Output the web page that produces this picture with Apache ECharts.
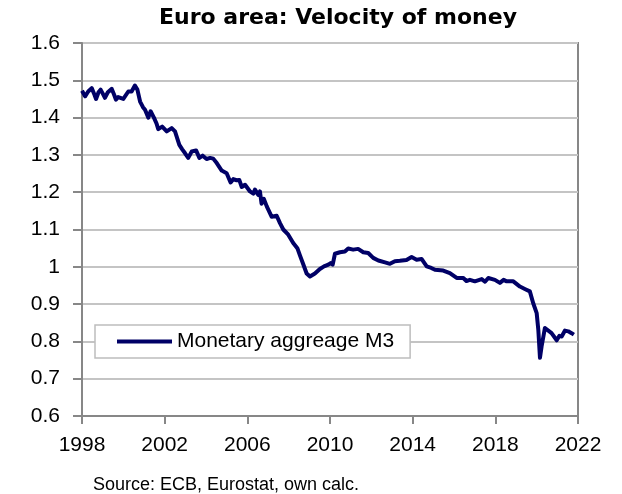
<!DOCTYPE html>
<html>
<head>
<meta charset="utf-8">
<script src="https://cdn.jsdelivr.net/npm/echarts@6/dist/echarts.min.js"></script>
<style>
  html, body { margin: 0; padding: 0; background: #fff; }
  #chart { width: 622px; height: 494px; }
</style>
</head>
<body>
<div id="chart"></div>
<script>
// year (decimal) and velocity of money
const years = [
  1998.00, 1998.15, 1998.30, 1998.47, 1998.60, 1998.68, 1998.80, 1998.90, 1999.00, 1999.11,
  1999.25, 1999.44, 1999.55, 1999.64, 1999.75, 1999.84, 2000.00, 2000.08, 2000.24, 2000.40,
  2000.56, 2000.68, 2000.81, 2000.95, 2001.05, 2001.21, 2001.32, 2001.48, 2001.60, 2001.69,
  2001.88, 2002.10, 2002.34, 2002.50, 2002.71, 2002.85, 2002.98, 2003.14, 2003.31, 2003.52,
  2003.68, 2003.84, 2004.03, 2004.20, 2004.35, 2004.52, 2004.76, 2005.00, 2005.19, 2005.32,
  2005.48, 2005.61, 2005.73, 2005.89, 2006.13, 2006.29, 2006.37, 2006.53, 2006.61, 2006.69,
  2006.80, 2006.94, 2007.18, 2007.42, 2007.58, 2007.74, 2007.98, 2008.22, 2008.42, 2008.55,
  2008.71, 2008.87, 2009.03, 2009.27, 2009.51, 2009.71, 2009.92, 2010.03, 2010.13, 2010.24,
  2010.48, 2010.72, 2010.88, 2011.12, 2011.36, 2011.61, 2011.85, 2012.09, 2012.34, 2012.66,
  2012.90, 2013.14, 2013.38, 2013.70, 2013.95, 2014.19, 2014.43, 2014.68, 2014.90, 2015.08,
  2015.48, 2015.80, 2016.13, 2016.45, 2016.60, 2016.77, 2017.01, 2017.34, 2017.50, 2017.66,
  2017.98, 2018.22, 2018.40, 2018.55, 2018.87, 2019.19, 2019.45, 2019.67, 2019.83, 2020.00,
  2020.08, 2020.16, 2020.24, 2020.40, 2020.72, 2020.97, 2021.10, 2021.21, 2021.37, 2021.53,
  2021.69, 2021.80
];
const velocity = [
  1.472, 1.457, 1.470, 1.479, 1.462, 1.450, 1.468, 1.475, 1.465, 1.453,
  1.468, 1.477, 1.462, 1.448, 1.455, 1.457, 1.450, 1.448, 1.470, 1.470,
  1.486, 1.475, 1.443, 1.428, 1.421, 1.400, 1.417, 1.400, 1.385, 1.369,
  1.376, 1.363, 1.372, 1.363, 1.327, 1.315, 1.305, 1.292, 1.309, 1.312,
  1.292, 1.298, 1.289, 1.292, 1.290, 1.278, 1.258, 1.251, 1.226, 1.235,
  1.232, 1.233, 1.214, 1.220, 1.202, 1.196, 1.207, 1.193, 1.202, 1.169,
  1.182, 1.162, 1.134, 1.137, 1.117, 1.100, 1.086, 1.064, 1.050, 1.030,
  1.006, 0.982, 0.974, 0.982, 0.994, 1.001, 1.006, 1.010, 1.006, 1.035,
  1.039, 1.041, 1.049, 1.046, 1.048, 1.039, 1.037, 1.024, 1.017, 1.012,
  1.008, 1.015, 1.016, 1.018, 1.026, 1.019, 1.021, 1.001, 0.997, 0.992,
  0.990, 0.983, 0.970, 0.970, 0.962, 0.965, 0.961, 0.967, 0.960, 0.970,
  0.965, 0.957, 0.965, 0.961, 0.961, 0.947, 0.940, 0.934, 0.903, 0.876,
  0.831, 0.756, 0.787, 0.836, 0.822, 0.803, 0.815, 0.813, 0.829, 0.827,
  0.822, 0.818
];
const seriesName = 'Monetary aggreage M3';
const titleText = 'Euro area: Velocity of money';
const sourceText = 'Source: ECB, Eurostat, own calc.';

const font = '"Liberation Sans", Arial, sans-serif';
const axisGray = '#878787';

const chart = echarts.init(document.getElementById('chart'));
chart.setOption({
  animation: false,
  grid: {
    left: 82, right: 44, top: 43, bottom: 78,
    show: true, borderColor: axisGray, borderWidth: 2
  },
  graphic: [
    {
      type: 'text', x: 338, y: 7,
      style: {
        text: titleText, fontFamily: '"DejaVu Sans", sans-serif', fontWeight: 'bold',
        fontSize: 22, fill: '#000', textAlign: 'center', textVerticalAlign: 'top'
      }
    },
    {
      type: 'text', x: 93, y: 485,
      style: {
        text: sourceText, fontFamily: font, fontSize: 18, fill: '#000',
        textVerticalAlign: 'middle'
      }
    }
  ],
  legend: {
    left: 95, top: 325,
    padding: [6, 16, 6, 22],
    backgroundColor: '#fff',
    borderColor: '#bdbdbd', borderWidth: 1.5, borderRadius: 0,
    icon: 'rect',
    itemWidth: 55, itemHeight: 4,
    textStyle: { fontFamily: font, fontSize: 21, color: '#000' },
    data: [seriesName]
  },
  xAxis: {
    type: 'value', min: 1998, max: 2022, interval: 4,
    axisLine: { lineStyle: { color: axisGray, width: 2 } },
    axisTick: { length: 8, lineStyle: { color: axisGray, width: 2 } },
    axisLabel: {
      margin: 19, fontFamily: font, fontSize: 21, color: '#000',
      formatter: v => String(v)
    },
    splitLine: { show: false }
  },
  yAxis: {
    type: 'value', min: 0.6, max: 1.6, interval: 0.1,
    axisLine: { show: true, lineStyle: { color: axisGray, width: 2 } },
    axisTick: { show: true, length: 9, lineStyle: { color: axisGray, width: 2 } },
    axisLabel: {
      margin: 22, fontFamily: font, fontSize: 21, color: '#000',
      formatter: v => String(Math.round(v * 10) / 10)
    },
    splitLine: { lineStyle: { color: '#c4c4c4', width: 2 } }
  },
  series: [{
    name: seriesName,
    type: 'line',
    showSymbol: false,
    symbol: 'none',
    data: years.map((y, i) => [y, velocity[i]]),
    lineStyle: { color: '#000066', width: 4, join: 'round' },
    itemStyle: { color: '#000066' }
  }]
});
</script>
</body>
</html>
